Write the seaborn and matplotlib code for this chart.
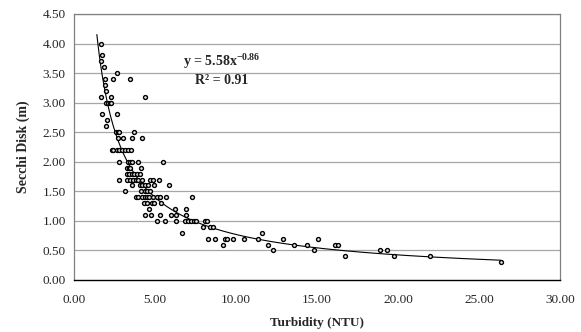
import matplotlib
matplotlib.use("Agg")
import matplotlib.pyplot as plt
import seaborn as sns
import numpy as np
import pandas as pd

# ---- data ----
secchi_levels = [4.0, 3.8, 3.7, 3.6, 3.5, 3.4, 3.3, 3.2, 3.1, 3.0, 2.8, 2.7, 2.6, 2.5, 2.4,
                 2.2, 2.0, 1.9, 1.8, 1.7, 1.6, 1.5, 1.4, 1.3, 1.2, 1.1, 1.0, 0.9, 0.8,
                 0.7, 0.6, 0.5, 0.4, 0.3]
turbidity_at_level = [
    [1.65],
    [1.73],
    [1.69],
    [1.85],
    [2.67],
    [1.89, 2.43, 3.44],
    [1.89],
    [1.95],
    [1.69, 2.28, 4.36],
    [2.0, 2.1, 2.2, 2.3],
    [1.73, 2.63],
    [2.04],
    [1.99],
    [2.57, 2.7, 2.78, 3.72],
    [2.7, 3.04, 3.6, 4.18],
    [2.33, 2.43, 2.63, 2.78, 2.94, 3.15, 3.35, 3.52],
    [2.78, 3.35, 3.45, 3.56, 3.97, 5.51],
    [3.25, 3.4, 3.46, 4.16],
    [3.25, 3.4, 3.55, 3.7, 3.9, 4.07],
    [2.78, 3.25, 3.46, 3.62, 3.83, 3.97, 4.2, 4.69, 4.86, 5.27],
    [3.56, 4.07, 4.18, 4.4, 4.59, 4.96, 5.86],
    [3.15, 4.14, 4.38, 4.49, 4.7],
    [3.8, 3.97, 4.18, 4.4, 4.49, 4.6, 4.86, 5.14, 5.3, 5.68, 7.26],
    [4.32, 4.49, 4.8, 4.94, 5.35],
    [4.65, 6.25, 6.9],
    [4.38, 4.73, 5.28, 5.97, 6.3, 6.9],
    [5.1, 5.62, 6.3, 6.85, 7.06, 7.2, 7.41, 7.53, 8.09, 8.19],
    [7.94, 8.4, 8.56],
    [6.65, 11.6],
    [8.29, 8.7, 9.32, 9.42, 9.8, 10.49, 11.38, 12.92, 15.04],
    [9.22, 11.98, 13.56, 14.38, 16.1, 16.3],
    [12.26, 14.84, 18.9, 19.3],
    [16.71, 19.75, 21.96],
    [26.34],
]
trend_coef = 5.58
trend_exp = -0.86
trend_xmin = 1.41
equation_text = "y = 5.58x$^{-0.86}$"
r2_text = "R² = 0.91"
x_ticks = [0, 5, 10, 15, 20, 25, 30]
y_ticks = [0.0, 0.5, 1.0, 1.5, 2.0, 2.5, 3.0, 3.5, 4.0, 4.5]

rows = []
for lvl, xs in zip(secchi_levels, turbidity_at_level):
    for xv in xs:
        rows.append((xv, lvl))
df = pd.DataFrame(rows, columns=["Turbidity", "Secchi"])

xt = np.linspace(trend_xmin, df["Turbidity"].max(), 300)
trend = pd.DataFrame({"Turbidity": xt, "Secchi": trend_coef * xt ** trend_exp})

# ---- style ----
sns.set_style("white")
plt.rcParams["font.family"] = ["Liberation Serif", "DejaVu Serif"]
plt.rcParams["mathtext.default"] = "regular"

fig = plt.figure(figsize=(5.81, 3.32), dpi=100)
ax = fig.add_axes([74 / 581, 1 - 280 / 332, (560 - 74) / 581, (280 - 14) / 332])

for y in y_ticks[1:]:
    ax.axhline(y, color="#a6a6a6", lw=0.9, zorder=0)

sns.lineplot(data=trend, x="Turbidity", y="Secchi", ax=ax, color="black", lw=0.8, zorder=2)
sns.scatterplot(data=df, x="Turbidity", y="Secchi", ax=ax, s=8, marker="o",
                facecolor="#e8e8e8", edgecolor="black", linewidth=1.0, zorder=3)

ax.set_xlim(0, 30)
ax.set_ylim(0, 4.5)
ax.set_xticks(x_ticks)
ax.set_yticks(y_ticks)
ax.set_xticklabels([f"{v:.2f}" for v in x_ticks])
ax.set_yticklabels([f"{v:.2f}" for v in y_ticks])
ax.tick_params(axis="x", direction="inout", length=8, width=0.9, color="black",
               labelsize=9.5, pad=6)
ax.tick_params(axis="y", direction="out", length=3, width=0.8, color="#808080",
               labelsize=9.5, pad=3)
ax.grid(False)

for side in ["top", "right", "left"]:
    ax.spines[side].set_color("#808080")
    ax.spines[side].set_linewidth(0.9)
ax.spines["bottom"].set_color("black")
ax.spines["bottom"].set_linewidth(1.0)

ax.set_xlabel("Turbidity (NTU)", fontsize=9.5, fontweight="bold", labelpad=8)
ax.set_ylabel("Secchi Disk (m)", fontsize=10, fontweight="bold", labelpad=9)

ax.text(9.14, 3.69, equation_text, ha="center", va="center", fontsize=10, fontweight="bold")
ax.text(9.14, 3.38, r2_text, ha="center", va="center", fontsize=10, fontweight="bold")

fig.savefig("out.png", dpi=100)
